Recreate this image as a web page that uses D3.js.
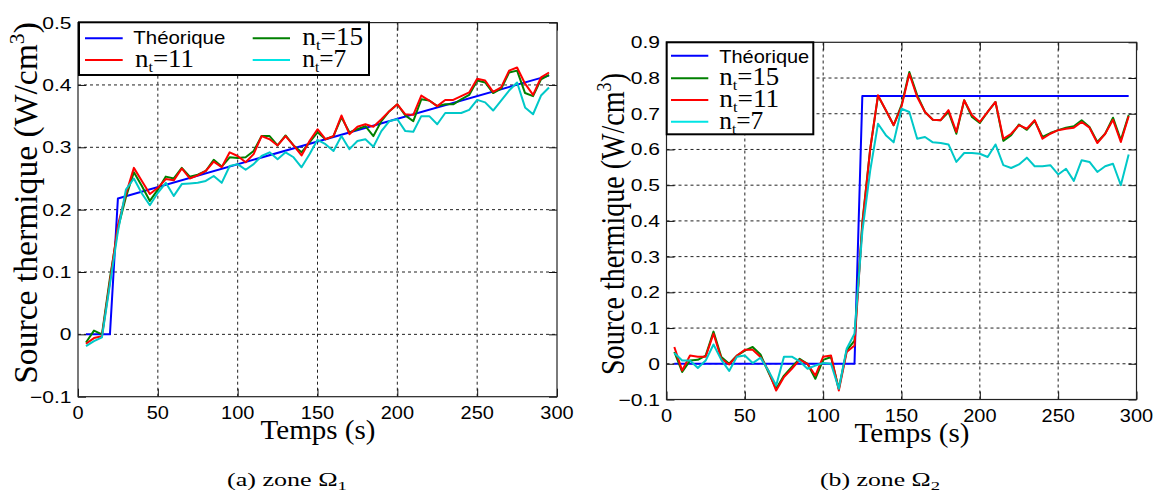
<!DOCTYPE html>
<html><head><meta charset="utf-8">
<script src="https://cdn.jsdelivr.net/npm/d3@7"></script>
<style>body{margin:0;background:#fff}</style>
</head><body>
<svg id="c" width="1155" height="494"></svg>
<script>
// ---------------- DATA ----------------
const times = [5,10,15,20,25,30,35,40,45,50,55,60,65,70,75,80,85,90,95,100,105,110,115,120,125,130,135,140,145,150,155,160,165,170,175,180,185,190,195,200,205,210,215,220,225,230,235,240,245,250,255,260,265,270,275,280,285,290,295];

const xTicks = [0,50,100,150,200,250,300];
const leftYTicks = [-0.1,0,0.1,0.2,0.3,0.4,0.5];
const rightYTicks = [-0.1,0,0.1,0.2,0.3,0.4,0.5,0.6,0.7,0.8,0.9];

// zone Omega1
const leftTheoTimes = [5,20,25,295];
const leftTheo = [0,0,0.218,0.415];
const leftN15 = [-0.013,0.006,0.000,0.090,0.170,0.220,0.260,0.238,0.214,0.232,
  0.253,0.250,0.267,0.253,0.256,0.262,0.280,0.269,0.284,0.283,
  0.284,0.294,0.318,0.318,0.303,0.319,0.303,0.292,0.308,0.324,
  0.313,0.318,0.348,0.324,0.329,0.334,0.318,0.342,0.358,0.369,
  0.351,0.342,0.377,0.375,0.366,0.369,0.369,0.377,0.384,0.407,
  0.404,0.387,0.394,0.420,0.423,0.387,0.382,0.409,0.416];
const leftN11 = [-0.015,-0.006,-0.003,0.085,0.175,0.225,0.267,0.246,0.225,0.235,
  0.249,0.247,0.266,0.250,0.255,0.262,0.277,0.268,0.292,0.286,
  0.276,0.289,0.318,0.313,0.303,0.318,0.303,0.287,0.310,0.329,
  0.313,0.318,0.351,0.321,0.333,0.337,0.333,0.345,0.358,0.369,
  0.353,0.352,0.383,0.375,0.366,0.376,0.376,0.382,0.388,0.410,
  0.407,0.389,0.396,0.423,0.428,0.402,0.384,0.412,0.420];
const leftN7 = [-0.019,-0.011,-0.005,0.080,0.165,0.232,0.250,0.226,0.207,0.227,
  0.243,0.222,0.241,0.242,0.243,0.246,0.254,0.243,0.270,0.273,
  0.264,0.273,0.286,0.292,0.281,0.292,0.284,0.268,0.289,0.312,
  0.305,0.294,0.318,0.297,0.310,0.313,0.301,0.326,0.342,0.345,
  0.326,0.325,0.350,0.350,0.337,0.355,0.355,0.355,0.360,0.376,
  0.372,0.359,0.375,0.391,0.404,0.364,0.353,0.383,0.396];

// zone Omega2
const rightTheoTimes = [5,120,125,295];
const rightTheo = [0,0,0.75,0.75];
const rightN15 = [0.033,-0.023,0.009,0.011,0.023,0.090,0.019,0.000,0.023,0.037,
  0.047,0.026,-0.023,-0.070,-0.033,-0.009,0.014,0.000,-0.042,0.011,
  0.019,-0.070,0.037,0.065,0.395,0.600,0.750,0.710,0.668,0.724,
  0.817,0.752,0.705,0.683,0.682,0.705,0.644,0.738,0.691,0.674,
  0.705,0.733,0.624,0.640,0.670,0.655,0.680,0.635,0.646,0.654,
  0.661,0.665,0.682,0.663,0.621,0.644,0.689,0.626,0.696];
const rightN11 = [0.047,-0.019,0.023,0.020,0.020,0.084,0.014,-0.002,0.023,0.039,
  0.039,0.019,-0.019,-0.075,-0.037,-0.014,0.011,0.000,-0.033,0.020,
  0.023,-0.075,0.033,0.051,0.390,0.600,0.752,0.710,0.668,0.720,
  0.812,0.747,0.705,0.683,0.682,0.710,0.649,0.738,0.696,0.677,
  0.705,0.733,0.630,0.644,0.668,0.658,0.682,0.630,0.644,0.654,
  0.658,0.661,0.677,0.661,0.618,0.644,0.683,0.621,0.693];
const rightN7 = [0.030,0.009,0.009,-0.012,0.009,0.054,0.011,-0.020,0.020,0.023,
  0.002,0.017,-0.019,-0.061,0.020,0.020,0.007,-0.014,-0.005,0.002,
  0.000,-0.070,0.042,0.084,0.370,0.540,0.672,0.640,0.620,0.714,
  0.705,0.630,0.635,0.620,0.618,0.614,0.565,0.590,0.590,0.588,
  0.579,0.614,0.556,0.548,0.558,0.577,0.553,0.553,0.556,0.530,
  0.546,0.512,0.570,0.565,0.537,0.553,0.560,0.500,0.586];

const seriesNames = ['Théorique','15','11','7'];
const seriesColors = ['#0000ff','#008000','#ff0000','#00c8c8'];
const legendColors = ['#0000ff','#008000','#ff0000','#00e4e4'];
const xLabel = 'Temps (s)';
const yLabelMain = 'Source thermique (W/cm';
const captions = [['(a) zone Ω','1'],['(b) zone Ω','2']];

// ---------------- DRAW ----------------
const SANS = '"Liberation Sans", Arial, Helvetica, sans-serif';
const SERIF = '"Liberation Serif", "Times New Roman", Times, serif';
const svg = d3.select('#c');
svg.append('rect').attr('width',1155).attr('height',494).attr('fill','#fff');

function fit(sel, x, y, opts) {
  opts = opts || {};
  const len = sel.node().getComputedTextLength();
  let sx = 1;
  if (opts.width) sx = opts.width / len; else if (opts.factor) sx = opts.factor;
  const sy = opts.sy || 1;
  const rot = opts.rot || 0;
  sel.attr('x',0).attr('y',0)
     .attr('transform', `translate(${x},${y}) rotate(${rot}) scale(${sx},${sy})`);
}

function ntLabel(g, num, size) {
  const t = g.append('text').attr('font-family', SERIF).attr('font-size', size).attr('fill','#000');
  t.append('tspan').text('n');
  t.append('tspan').attr('font-size', size*0.6).attr('dy', 5).text('t');
  t.append('tspan').attr('dy', -5).text('=' + num);
  return t;
}

function panel(cfg) {
  const g = svg.append('g');
  const x = d3.scaleLinear().domain([0,300]).range(cfg.xr);
  const y = d3.scaleLinear().domain(cfg.ydom).range(cfg.yr);
  const [x0,x1] = cfg.xr, [y0,y1] = cfg.yr; // y0 bottom, y1 top

  // grid
  const grid = g.append('g').attr('stroke','#222').attr('stroke-width',1).attr('stroke-dasharray','3,3').attr('fill','none');
  xTicks.slice(1,-1).forEach(t => grid.append('line').attr('x1',x(t)).attr('x2',x(t)).attr('y1',y0).attr('y2',y1));
  cfg.yTicks.slice(1,-1).forEach(t => grid.append('line').attr('x1',x0).attr('x2',x1).attr('y1',y(t)).attr('y2',y(t)));

  // axes via d3 (inner ticks on all sides)
  const fmt = v => (Math.abs(v) < 1e-9 ? '0' : d3.format('.1f')(v));
  const ax = [
    g.append('g').attr('transform',`translate(0,${y0})`).call(d3.axisBottom(x).tickValues(xTicks).tickSizeInner(-8).tickSizeOuter(0).tickFormat('')),
    g.append('g').attr('transform',`translate(0,${y1})`).call(d3.axisTop(x).tickValues(xTicks).tickSizeInner(-8).tickSizeOuter(0).tickFormat('')),
    g.append('g').attr('transform',`translate(${x0},0)`).call(d3.axisLeft(y).tickValues(cfg.yTicks).tickSizeInner(-8).tickSizeOuter(0).tickFormat('')),
    g.append('g').attr('transform',`translate(${x1},0)`).call(d3.axisRight(y).tickValues(cfg.yTicks).tickSizeInner(-8).tickSizeOuter(0).tickFormat(''))
  ];
  ax.forEach(a => { a.selectAll('.domain').remove(); a.selectAll('line').attr('stroke','#111').attr('stroke-width',1); });

  // curves
  const line = d3.line().x(d => x(d[0])).y(d => y(d[1]));
  const sets = [
    d3.zip(cfg.theoT, cfg.theo),
    d3.zip(times, cfg.n15),
    d3.zip(times, cfg.n11),
    d3.zip(times, cfg.n7)
  ];
  sets.forEach((s,i) => g.append('path').datum(s).attr('d', line)
     .attr('fill','none').attr('stroke', seriesColors[i]).attr('stroke-width', 2).attr('stroke-linejoin','round'));

  // frame
  g.append('rect').attr('x',x0).attr('y',y1).attr('width',x1-x0).attr('height',y0-y1)
    .attr('fill','none').attr('stroke','#222').attr('stroke-width',1.2);

  // tick labels
  xTicks.forEach(t => {
    const tx = g.append('text').attr('font-family',SANS).attr('font-size',19).attr('text-anchor','middle').text(t);
    fit(tx, x(t), y0 + 22, {factor:1.05});
  });
  cfg.yTicks.forEach(t => {
    const ty = g.append('text').attr('font-family',SANS).attr('font-size',17).attr('text-anchor','end').text(fmt(t));
    fit(ty, x0 - 6.5, y(t) + 6, {factor:1.24});
  });

  // axis labels
  const xl = g.append('text').attr('font-family',SERIF).attr('font-size',28).attr('text-anchor','middle').text(xLabel);
  fit(xl, cfg.xlab[0], cfg.xlab[1], {width:115});
  const yl = g.append('text').attr('font-family',SERIF).attr('font-size',28).attr('text-anchor','middle');
  yl.append('tspan').text(yLabelMain);
  yl.append('tspan').attr('font-size',18).attr('dy',-11).text('3');
  yl.append('tspan').attr('dy',11).text(')');
  fit(yl, cfg.ylab[0], cfg.ylab[1], {width:cfg.ylab[2], rot:-90, sy:cfg.ylab[3]});

  // caption
  const cp = g.append('text').attr('font-family',SERIF).attr('font-size',18).attr('text-anchor','middle');
  cp.append('tspan').text(cfg.caption[0]);
  cp.append('tspan').attr('font-size',13).attr('dy',4).text(cfg.caption[1]);
  fit(cp, cfg.cap[0], cfg.cap[1], {width:120});

  // legend
  const L = cfg.legend;
  const lg = g.append('g');
  lg.append('rect').attr('x',L.box[0]).attr('y',L.box[1]).attr('width',L.box[2]-L.box[0]).attr('height',L.box[3]-L.box[1])
    .attr('fill','#fff').attr('stroke','#000').attr('stroke-width',2);
  L.items.forEach((it,i) => {
    lg.append('line').attr('x1',it.lx[0]).attr('x2',it.lx[1]).attr('y1',it.ly).attr('y2',it.ly)
      .attr('stroke', legendColors[i]).attr('stroke-width',2);
    let t;
    if (i === 0) t = lg.append('text').attr('font-family',SANS).attr('font-size',18).text(seriesNames[0]);
    else t = ntLabel(lg, seriesNames[i], 25);
    fit(t, it.tx, it.ty, {width: it.w});
  });
}

panel({
  xr:[78,557], yr:[396.7,22.6], ydom:[-0.1,0.5], yTicks:leftYTicks,
  theoT:leftTheoTimes, theo:leftTheo, n15:leftN15, n11:leftN11, n7:leftN7,
  xlab:[318,439], ylab:[37,203,362,1.22], cap:[287,486], caption:captions[0],
  legend:{ box:[79,22.3,369,75], items:[
    {lx:[85,122.7], ly:38.3, tx:133.3, ty:44, w:92},
    {lx:[252.7,290], ly:38.3, tx:302.3, ty:45, w:61},
    {lx:[85,122.7], ly:60, tx:135, ty:67.3, w:59},
    {lx:[252.7,290], ly:60, tx:302.3, ty:67.3, w:44}
  ]}
});

panel({
  xr:[666.5,1136.5], yr:[399.5,42.3], ydom:[-0.1,0.9], yTicks:rightYTicks,
  theoT:rightTheoTimes, theo:rightTheo, n15:rightN15, n11:rightN11, n7:rightN7,
  xlab:[912,442], ylab:[624,224,302,1.17], cap:[880,486], caption:captions[1],
  legend:{ box:[666.7,42.3,813.3,134.3], items:[
    {lx:[671,708.3], ly:55.7, tx:719.3, ty:63.3, w:90},
    {lx:[671,708.3], ly:78.3, tx:719.3, ty:85, w:60},
    {lx:[671,708.3], ly:100, tx:719.3, ty:107.3, w:60},
    {lx:[671,708.3], ly:121.7, tx:719.3, ty:128.7, w:44}
  ]}
});
</script>
</body></html>
